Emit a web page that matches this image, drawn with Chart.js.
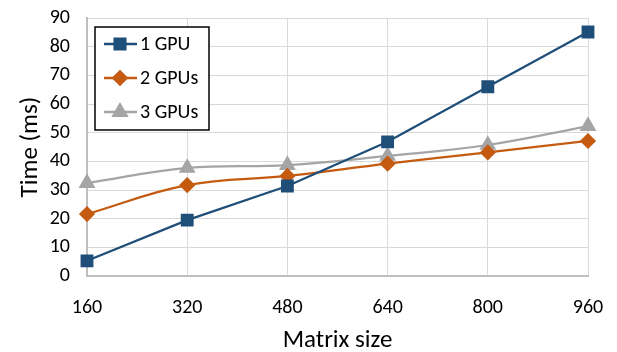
<!DOCTYPE html>
<html>
<head>
<meta charset="utf-8">
<script src="https://cdn.jsdelivr.net/npm/chart.js@4"></script>
<style>
  html, body { margin: 0; padding: 0; background: #fff; }
  #wrap { width: 617px; height: 352px; }
</style>
</head>
<body>
<div id="wrap"><canvas id="chart" width="617" height="352"></canvas></div>
<script>
const matrixSizes = ['160', '320', '480', '640', '800', '960'];
const oneGpu = [5.3, 19.5, 31.4, 46.8, 66.0, 85.1];
const twoGpus = [21.6, 31.7, 34.9, 39.2, 43.1, 47.1];
const threeGpus = [32.4, 37.7, 38.7, 41.9, 45.7, 52.3];
const yTicks = [0, 10, 20, 30, 40, 50, 60, 70, 80, 90];

const FONT = 'Calibri, Carlito, "Open Sans", "Liberation Sans", sans-serif';

// draws the boxed legend inside the plot area, like Excel does
const boxLegend = {
    id: 'boxLegend',
    afterDraw(chart) {
        const ctx = chart.ctx;
        const x = 95, y = 27, w = 114, h = 103;
        ctx.save();
        ctx.fillStyle = '#fff';
        ctx.fillRect(x, y, w, h);
        ctx.strokeStyle = '#000';
        ctx.lineWidth = 1.5;
        ctx.strokeRect(x, y, w, h);
        chart.data.datasets.forEach((ds, i) => {
            const cy = y + 17 + i * 34;
            ctx.strokeStyle = ds.borderColor;
            ctx.lineWidth = 2.5;
            ctx.beginPath();
            ctx.moveTo(x + 9, cy);
            ctx.lineTo(x + 42, cy);
            ctx.stroke();
            Chart.helpers.drawPoint(ctx, {
                pointStyle: ds.pointStyle,
                radius: ds.pointRadius,
                rotation: 0,
                borderWidth: 1
            }, x + 25, cy);
            ctx.fillStyle = ds.borderColor;
            ctx.fill();
            ctx.fillStyle = '#000';
            ctx.font = '20px ' + FONT;
            ctx.textBaseline = 'middle';
            ctx.textAlign = 'left';
            ctx.fillText(ds.label, x + 45, cy + 1);
        });
        ctx.restore();
    }
};

const config = {
    type: 'line',
    data: {
        labels: matrixSizes,
        datasets: [
            {
                label: '1 GPU',
                data: oneGpu,
                borderColor: '#1F4E79',
                backgroundColor: '#1F4E79',
                borderWidth: 2.25,
                pointStyle: 'rect',
                pointRadius: 7.5,
                tension: 0
            },
            {
                label: '2 GPUs',
                data: twoGpus,
                borderColor: '#C55A11',
                backgroundColor: '#C55A11',
                borderWidth: 2.25,
                pointStyle: 'rectRot',
                pointRadius: 6.5,
                tension: 0.4
            },
            {
                label: '3 GPUs',
                data: threeGpus,
                borderColor: '#A5A5A5',
                backgroundColor: '#A5A5A5',
                borderWidth: 2.25,
                pointStyle: 'triangle',
                pointRadius: 7.5,
                tension: 0.4
            }
        ]
    },
    options: {
        responsive: false,
        animation: false,
        layout: { padding: { top: 18, right: 29, left: 0, bottom: 0 } },
        plugins: {
            legend: { display: false },
            tooltip: { enabled: false }
        },
        scales: {
            x: {
                offset: false,
                grid: { color: '#D9D9D9', lineWidth: 1, drawTicks: false },
                border: { color: '#BFBFBF', width: 2 },
                ticks: { color: '#000', font: { family: FONT, size: 20 }, padding: 20, maxRotation: 0 },
                title: { display: true, text: 'Matrix size', color: '#000', font: { family: FONT, size: 25 }, padding: { top: 0, bottom: -4 } },
                afterFit(scale) {
                    scale.height = 76;
                    scale.paddingLeft = 0;
                    scale.paddingRight = 0;
                }
            },
            y: {
                min: 0,
                max: 90,
                afterBuildTicks(scale) { scale.ticks = yTicks.map(v => ({ value: v })); },
                grid: { color: '#D9D9D9', lineWidth: 1, drawTicks: false },
                border: { color: '#BFBFBF', width: 2 },
                ticks: { color: '#000', font: { family: FONT, size: 20 }, padding: 17 },
                title: { display: true, text: 'Time (ms)', color: '#000', font: { family: FONT, size: 25 }, padding: { top: 16, bottom: 0 } },
                afterFit(scale) {
                    scale.width = 87;
                    scale.paddingTop = 0;
                    scale.paddingBottom = 0;
                }
            }
        }
    },
    plugins: [boxLegend]
};

new Chart(document.getElementById('chart').getContext('2d'), config);
</script>
</body>
</html>
